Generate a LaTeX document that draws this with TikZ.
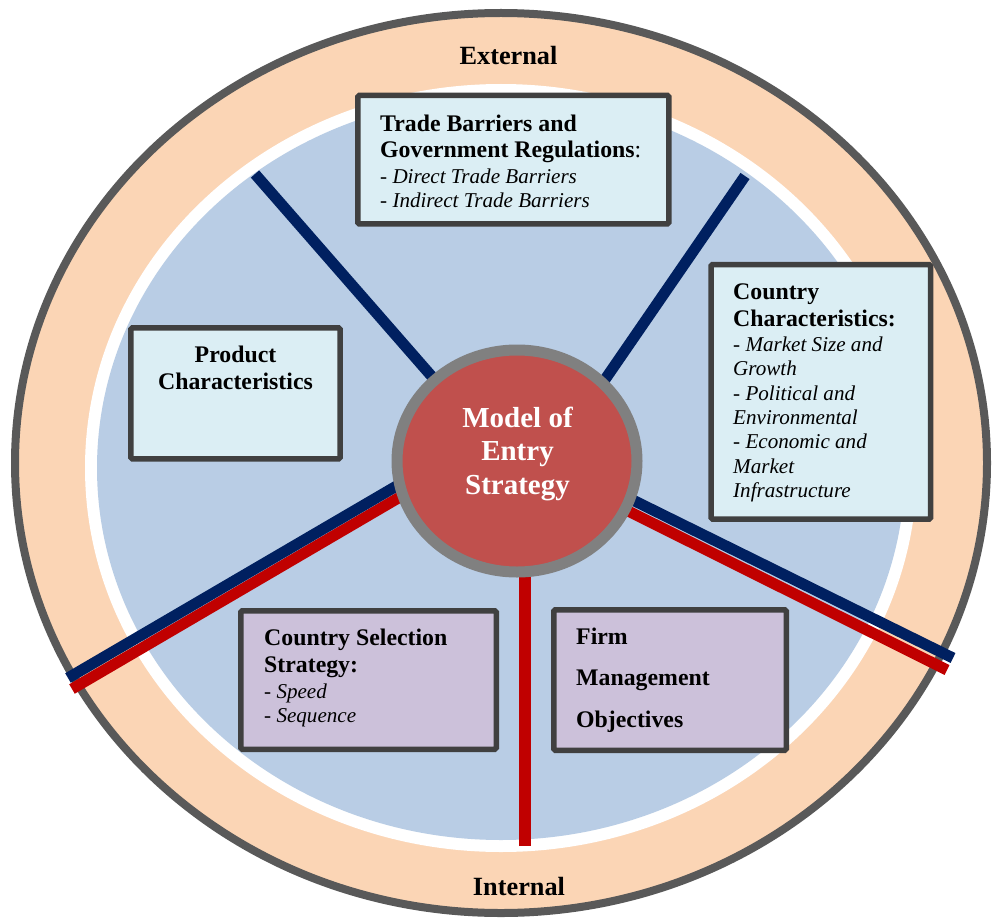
\documentclass[tikz,border=0pt]{standalone}
\usepackage{fontspec}
\setmainfont{Liberation Serif}
\usetikzlibrary{shapes.geometric}
\definecolor{peach}{HTML}{FBD5B5}
\definecolor{ringgray}{HTML}{595959}
\definecolor{skyblue}{HTML}{B9CDE5}
\definecolor{lightbox}{HTML}{DBEEF4}
\definecolor{purplebox}{HTML}{CCC1DA}
\definecolor{boxgray}{HTML}{404040}
\definecolor{cred}{HTML}{C0504D}
\definecolor{cgray}{HTML}{808080}
\definecolor{navy}{HTML}{002060}
\definecolor{dred}{HTML}{C00000}
\tikzset{
  lbox/.style={draw=boxgray, line width=5.5pt, fill=lightbox, rounded corners=1.5pt, inner sep=0pt, shape=rectangle},
  pbox/.style={lbox, fill=purplebox},
  btxt/.style={font=\fontsize{23.8}{27.5}\selectfont\bfseries, align=left, inner sep=0pt, anchor=north west},
  itxt/.style={font=\fontsize{21.1}{24.4}\selectfont\itshape, align=left, inner sep=0pt, anchor=north west},
  ftxt/.style={font=\fontsize{23.8}{41.5}\selectfont\bfseries, align=left, inner sep=0pt, anchor=north west},
  ringtxt/.style={font=\fontsize{26.3}{30}\selectfont\bfseries, inner sep=0pt, anchor=base},
  mtxt/.style={font=\fontsize{29}{33.5}\selectfont\bfseries, text=white, align=center, inner sep=0pt, anchor=north},
  navyline/.style={draw=navy, line width=11pt},
  redline/.style={draw=dred, line width=11pt},
}
\begin{document}
\begin{tikzpicture}[x=1pt,y=-1pt]
\useasboundingbox (0,0) rectangle (992,920);
% rings
\draw[fill=peach, draw=ringgray, line width=8pt] (501,463) ellipse [x radius=486, y radius=450];
\fill[white] (501,468) ellipse [x radius=416, y radius=384];
\fill[skyblue] (501,468) ellipse [x radius=404, y radius=372];
% spokes
\coordinate (ulOut) at (255,174);
\coordinate (ulIn) at (469,419);
\coordinate (urOut) at (745,176);
\coordinate (urIn) at (573,426);
\coordinate (llnOut) at (68,678);
\coordinate (llnIn) at (441,460);
\coordinate (llrOut) at (72,689);
\coordinate (llrIn) at (441,473);
\coordinate (lrnOut) at (953,658);
\coordinate (lrnIn) at (580,474);
\coordinate (lrrOut) at (947,670);
\coordinate (lrrIn) at (580,487);
\coordinate (vOut) at (525,846);
\coordinate (vIn) at (525,540);
\draw[navyline] (ulOut) -- (ulIn);
\draw[navyline] (urOut) -- (urIn);
\draw[redline] (llrOut) -- (llrIn);
\draw[navyline] (llnOut) -- (llnIn);
\draw[redline] (lrrOut) -- (lrrIn);
\draw[navyline] (lrnOut) -- (lrnIn);
\draw[redline, line width=12pt] (vOut) -- (vIn);
% center
\node[ellipse, draw=cgray, line width=11pt, fill=cred, minimum width=240pt, minimum height=222pt, inner sep=0pt] (model) at (517,461) {};
\node[mtxt] (modeltxt) at (517.5,403) {\rule{0pt}{24pt}Model of\\Entry\\Strategy};
% boxes
\node[lbox, minimum width=311pt, minimum height=128.5pt] (trade) at (513.3,159.7) {};
\node[lbox, minimum width=219.5pt, minimum height=254.5pt] (country) at (820.8,391.8) {};
\node[lbox, minimum width=209.4pt, minimum height=131pt] (product) at (235.5,393.4) {};
\node[pbox, minimum width=255.5pt, minimum height=138.5pt] (selection) at (368.5,680) {};
\node[pbox, minimum width=232.5pt, minimum height=140.5pt] (firm) at (670,680) {};
% texts
\node[btxt, font=\fontsize{23.8}{26}\selectfont\bfseries] (tradeT) at (380,111) {\rule{0pt}{20pt}Trade Barriers and\\Government Regulations{\mdseries:}};
\node[itxt] (tradeI) at (380,163) {\rule{0pt}{20pt}- Direct Trade Barriers\\- Indirect Trade Barriers};
\node[btxt] (countryT) at (733,279) {\rule{0pt}{20pt}Country\\Characteristics:};
\node[itxt] (countryI) at (733,331) {\rule{0pt}{20pt}- Market Size and\\Growth\\- Political and\\Environmental\\- Economic and\\Market\\Infrastructure};
\node[btxt, align=center, anchor=north] (productT) at (235.5,342) {\rule{0pt}{20pt}Product\\Characteristics};
\node[btxt] (selectionT) at (264,625) {\rule{0pt}{20pt}Country Selection\\Strategy:};
\node[itxt] (selectionI) at (264,678) {\rule{0pt}{20pt}- Speed\\- Sequence};
\node[ftxt] (firmT) at (576,624) {\rule{0pt}{20pt}Firm\\Management\\Objectives};
\node[ringtxt] (external) at (508.5,65) {External};
\node[ringtxt] (internal) at (519,895) {Internal};
\end{tikzpicture}
\end{document}
